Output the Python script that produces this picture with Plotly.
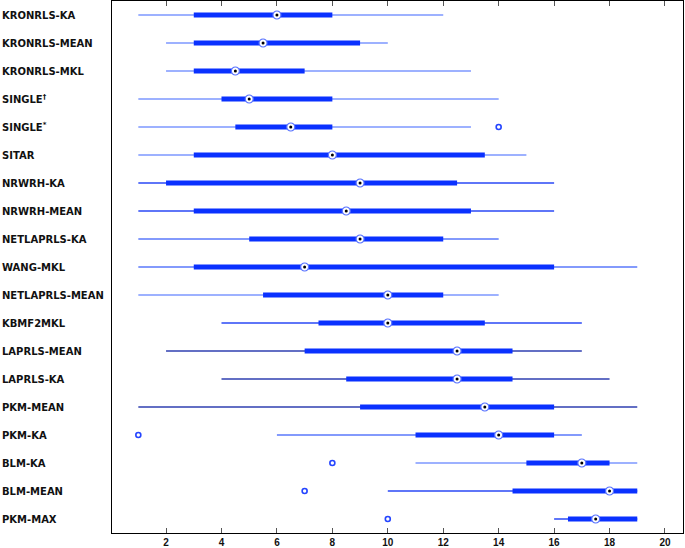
import plotly.graph_objects as go

categories = ["KRONRLS-KA", "KRONRLS-MEAN", "KRONRLS-MKL", "SINGLE<sup>†</sup>", "SINGLE<sup>*</sup>",
              "SITAR", "NRWRH-KA", "NRWRH-MEAN", "NETLAPRLS-KA", "WANG-MKL", "NETLAPRLS-MEAN",
              "KBMF2MKL", "LAPRLS-MEAN", "LAPRLS-KA", "PKM-MEAN", "PKM-KA", "BLM-KA", "BLM-MEAN", "PKM-MAX"]
whisker_low = [1, 2, 2, 1, 1, 1, 1, 1, 1, 1, 1, 4, 2, 4, 1, 6, 11, 10, 16]
q1 = [3, 3, 3, 4, 4.5, 3, 2, 3, 5, 3, 5.5, 7.5, 7, 8.5, 9, 11, 15, 14.5, 16.5]
median = [6, 5.5, 4.5, 5, 6.5, 8, 9, 8.5, 9, 7, 10, 10, 12.5, 12.5, 13.5, 14, 17, 18, 17.5]
q3 = [8, 9, 7, 8, 8, 13.5, 12.5, 13, 12, 16, 12, 13.5, 14.5, 14.5, 16, 16, 18, 19, 19]
whisker_high = [12, 10, 13, 14, 13, 15, 16, 16, 14, 19, 14, 17, 17, 18, 19, 17, 19, 19, 19]
outliers = [[], [], [], [], [14], [], [], [], [], [], [], [], [], [], [], [1], [8], [7], [10]]
x_ticks = [2, 4, 6, 8, 10, 12, 14, 16, 18, 20]

# styles
LIGHT = "#7d97ff"
MID = "#2a48f6"
DARK = "#2f3fb0"
whisker_colors = [LIGHT, LIGHT, LIGHT, LIGHT, LIGHT, LIGHT, MID, MID, "#5a78fb", "#5a78fb", LIGHT,
                  MID, DARK, DARK, DARK, "#5a78fb", LIGHT, MID, MID]
BOX = "#0a31ff"

fig = go.Figure()
for i, cat in enumerate(categories):
    fig.add_trace(go.Scatter(x=[whisker_low[i], whisker_high[i]], y=[i, i], mode="lines",
                             line=dict(color=whisker_colors[i], width=1.5), hoverinfo="skip", showlegend=False))
    fig.add_trace(go.Scatter(x=[q1[i], q3[i]], y=[i, i], mode="lines",
                             line=dict(color=BOX, width=5), hoverinfo="skip", showlegend=False))
    if outliers[i]:
        fig.add_trace(go.Scatter(x=outliers[i], y=[i] * len(outliers[i]), mode="markers",
                                 marker=dict(symbol="circle-open", size=5, color="#2545ff", line=dict(width=1.6)),
                                 showlegend=False))

ys = list(range(len(categories)))
fig.add_trace(go.Scatter(x=median, y=ys, mode="markers",
                         marker=dict(symbol="circle", size=8, color="white", line=dict(color="#5570ff", width=1.2)),
                         showlegend=False))
fig.add_trace(go.Scatter(x=median, y=ys, mode="markers",
                         marker=dict(symbol="circle", size=3, color="black"), showlegend=False))

for i, cat in enumerate(categories):
    fig.add_annotation(x=0, xref="paper", y=i, yref="y", text=cat, showarrow=False,
                       xanchor="left", xshift=-112, font=dict(family="DejaVu Sans", size=10, color="#111", weight="bold"))

fig.update_layout(
    width=685, height=548,
    margin=dict(l=112, r=2, t=1, b=15),
    plot_bgcolor="white", paper_bgcolor="white",
    xaxis=dict(range=[0.05, 20.65], tickvals=x_ticks, ticks="inside", ticklen=5, tickcolor="#555",
               showline=True, linecolor="black", linewidth=1.3, mirror="ticks", showgrid=False, zeroline=False,
               ticklabelstandoff=0,
               tickfont=dict(family="Liberation Sans", size=10, color="#111", weight="bold"), automargin=False),
    yaxis=dict(range=[18.5, -0.5], showticklabels=False, ticks="", showline=True, linecolor="black",
               linewidth=1.3, mirror=True, showgrid=False, zeroline=False, automargin=False),
)
fig.write_html("out.html", config={"displayModeBar": False},
               post_script="document.body.style.margin='0';document.body.style.overflow='hidden';")
